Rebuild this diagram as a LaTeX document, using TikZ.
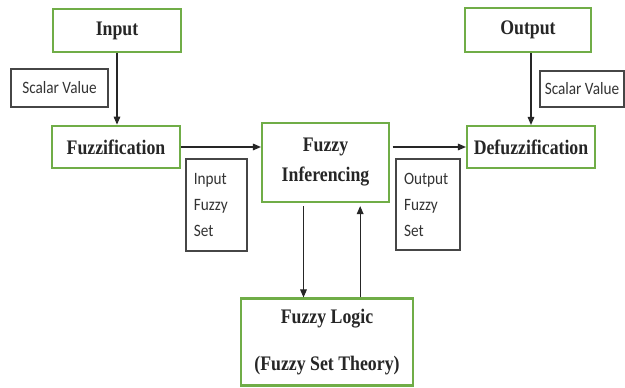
\documentclass[tikz,border=0pt]{standalone}
\usepackage{fontspec}
\setmainfont{Liberation Serif}[FakeStretch=0.86]
\newfontfamily\lblfont{Carlito}[FakeStretch=0.88]
\usetikzlibrary{arrows.meta}
\definecolor{boxgreen}{RGB}{112,173,71}
\definecolor{lblgray}{RGB}{70,70,70}
\tikzset{
  gbox/.style={draw=boxgreen, line width=1.6pt, fill=white, inner sep=0pt, align=center,
    font=\fontsize{15.5}{16.5}\selectfont\bfseries, text=black!85},
  lbox/.style={draw=lblgray, line width=1pt, fill=white, inner sep=0pt,
    font=\lblfont\fontsize{13}{19.5}\selectfont, text=black!80},
  arr/.style={draw=black!85, line width=0.8pt, -{Triangle[length=6pt,width=5pt]}}
}
\begin{document}
\begin{tikzpicture}[x=0.75pt,y=-0.75pt]
\useasboundingbox (0,0) rectangle (625,388);
\fill[white] (0,0) rectangle (625,388);
\node[gbox, minimum width=96pt, minimum height=32pt] (input) at (117,30.5) {Input};
\node[lbox, minimum width=72.75pt, minimum height=28.5pt] (sl) at (59.5,88) {Scalar Value};
\node[gbox, minimum width=96pt, minimum height=32pt] (fuzz) at (116,147) {Fuzzification};
\node[gbox, minimum width=95.25pt, minimum height=59.25pt, font=\fontsize{15.5}{22.5}\selectfont\bfseries] (fi) at (325.5,162.5) {Fuzzy\\Inferencing};
\node[lbox, minimum width=45.75pt, minimum height=69pt, align=left, text width=34pt] (ifs) at (216.5,205) {Input\\Fuzzy\\Set};
\node[gbox, minimum width=94.5pt, minimum height=33pt] (output) at (528,30) {Output};
\node[lbox, minimum width=63pt, minimum height=27pt] (sr) at (582,89) {Scalar Value};
\node[gbox, minimum width=96pt, minimum height=31.5pt] (defuzz) at (531,147) {Defuzzification};
\node[lbox, minimum width=48pt, minimum height=68.25pt, align=left, text width=36pt] (ofs) at (428,204.5) {Output\\Fuzzy\\Set};
\node[gbox, minimum width=129pt, minimum height=65.25pt, font=\fontsize{15.5}{35}\selectfont\bfseries] (fl) at (327,342) {Fuzzy Logic\\(Fuzzy Set Theory)};
\draw[arr] (input.south) -- (input.south |- fuzz.north);
\draw[arr] (fuzz.east) -- (fuzz.east -| fi.west);
\draw[arr, shorten <=2pt] (defuzz.west -| fi.east) -- (defuzz.west);
\draw[arr] (output.south -| defuzz.north) -- (defuzz.north);
\coordinate (d1) at ([xshift=-16.5pt]fi.south);
\coordinate (u1) at ([xshift=26pt]fi.south);
\draw[arr, shorten <=2.25pt] (d1) -- (d1 |- fl.north);
\draw[arr, shorten >=2.25pt] (u1 |- fl.north) -- (u1);
\end{tikzpicture}
\end{document}
